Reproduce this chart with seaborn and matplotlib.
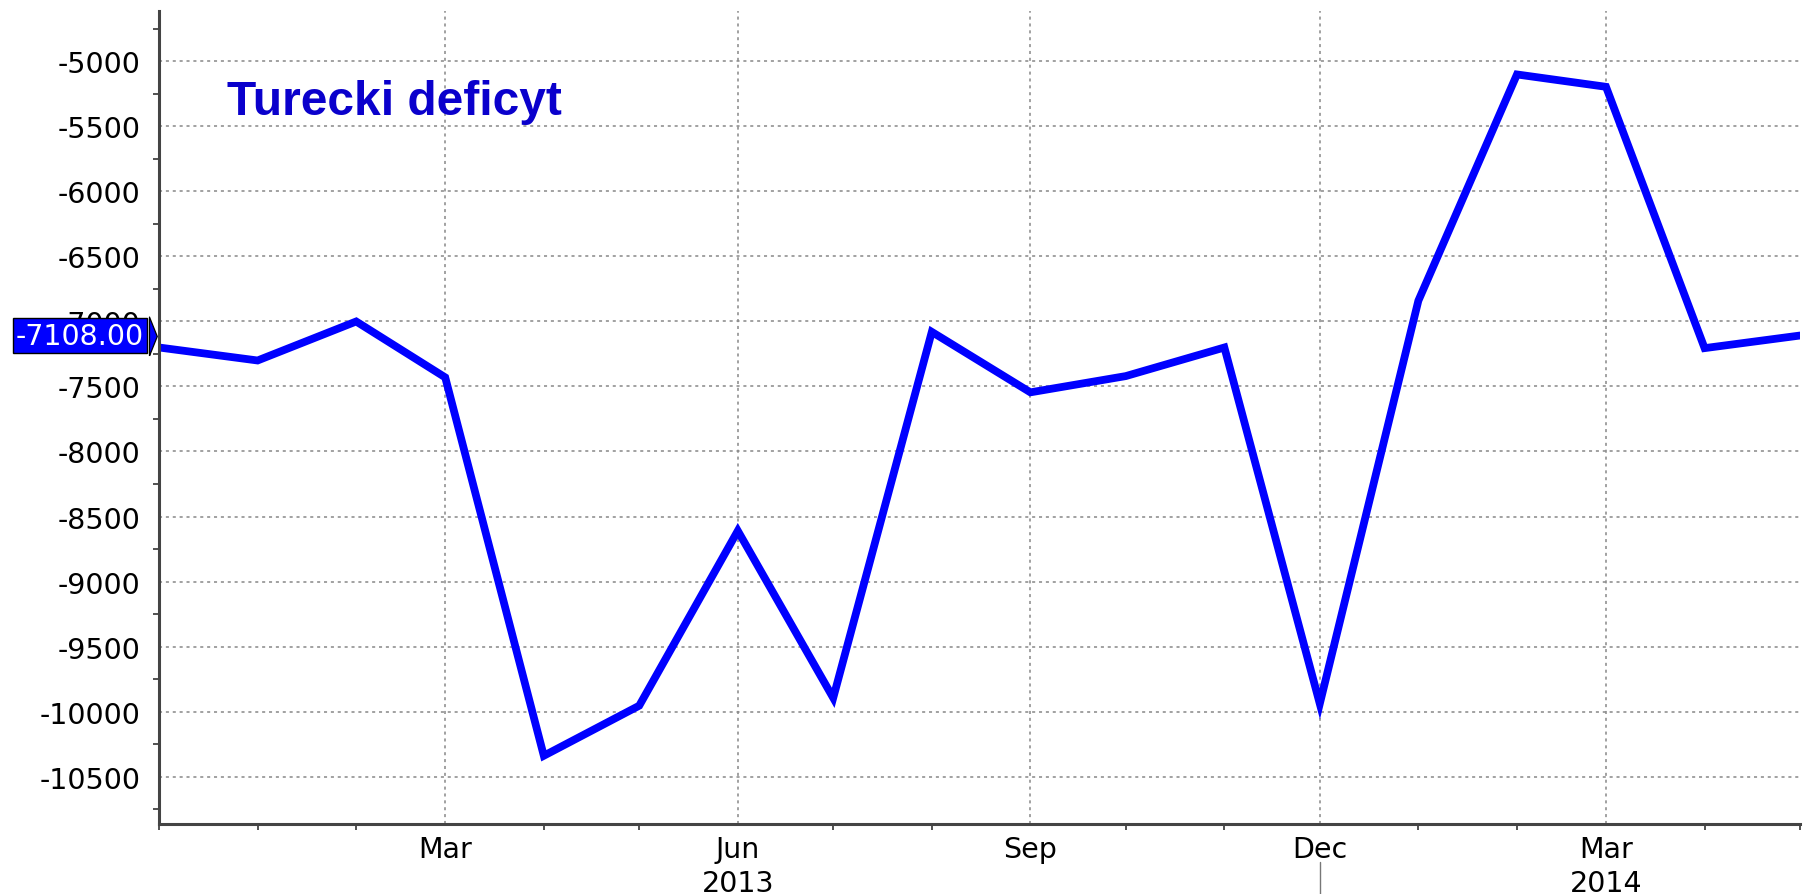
import matplotlib
matplotlib.use("Agg")
import matplotlib.pyplot as plt
import matplotlib.dates as mdates
import matplotlib.transforms as mtrans
import matplotlib.markers as mmarkers
import seaborn as sns
import pandas as pd
import numpy as np

# ---- data ----
months = ["2012-12", "2013-01", "2013-02", "2013-03", "2013-04", "2013-05",
          "2013-06", "2013-07", "2013-08", "2013-09", "2013-10", "2013-11",
          "2013-12", "2014-01", "2014-02", "2014-03", "2014-04", "2014-05"]
deficit = [-7200, -7300, -7000, -7430, -10340, -9955,
           -8610, -9895, -7080, -7545, -7420, -7200,
           -9940, -6840, -5100, -5195, -7205, -7108]
title_text = "Turecki deficyt"
last_label = "-7108.00"
xtick_months = ["2013-03", "2013-06", "2013-09", "2013-12", "2014-03"]
xtick_labels = ["Mar", "Jun", "Sep", "Dec", "Mar"]
year_labels = ["2013", "2014"]
year_label_pos = ["2013-06", "2014-03"]
year_sep = "2013-12"
yticks = list(range(-10500, -4999, 500))

df = pd.DataFrame({"date": pd.to_datetime(months), "value": deficit})

sns.set_theme(style="white")
plt.rcParams["font.family"] = ["DejaVu Sans"]

FS = 20.5
fig = plt.figure(figsize=(18.19, 8.95), dpi=100)
ax = fig.add_axes([159 / 1819, 1 - 825 / 895, (1800 - 159) / 1819, (825 - 12) / 895])

sns.lineplot(data=df, x="date", y="value", ax=ax, color="#0000FF",
             linewidth=5.6, solid_joinstyle="miter")

ax.set_xlim(df["date"].iloc[0], df["date"].iloc[-1])
ax.set_ylim(-10865, -4612)
ax.set_xlabel("")
ax.set_ylabel("")

ax.set_yticks(yticks)
ax.set_yticklabels([str(v) for v in yticks])
ax.yaxis.set_minor_locator(matplotlib.ticker.MultipleLocator(250))
ax.set_xticks(pd.to_datetime(xtick_months))
ax.set_xticklabels(xtick_labels)
ax.xaxis.set_minor_locator(mdates.MonthLocator())

for s in ["top", "right"]:
    ax.spines[s].set_visible(False)
for s in ["left", "bottom"]:
    ax.spines[s].set_color("#444444")
    ax.spines[s].set_linewidth(2.2)

ax.tick_params(axis="both", which="major", labelsize=FS, labelcolor="black",
               color="#222222")
ax.tick_params(axis="y", which="major", direction="out", length=7, width=2, pad=6.5)
ax.tick_params(axis="x", which="major", direction="in", length=4, width=1.5, pad=8)
ax.tick_params(axis="both", which="minor", direction="out", length=4.5,
               width=1.2, color="#333333", left=True, bottom=True)

for t in ax.yaxis.get_major_ticks():
    t.tick1line.set_marker(mmarkers.CARETLEFTBASE)
    t.tick1line.set_markersize(7)

ax.grid(True, which="major", axis="both", color="#888888",
        linestyle=(0, (2, 2.5)), linewidth=1.1)

# title
ax.text(0.0414, 0.873, title_text, transform=ax.transAxes, fontsize=34.5,
        fontweight="bold", color="#0A00CC", family="Liberation Sans",
        va="baseline", ha="left")

# year labels
trans = mtrans.blended_transform_factory(ax.transData, ax.transAxes)
for lab, pos in zip(year_labels, year_label_pos):
    ax.text(mdates.date2num(pd.Timestamp(pos)), -0.073, lab, transform=trans,
            ha="center", va="center", fontsize=FS, color="black")
xs = mdates.date2num(pd.Timestamp(year_sep))
ax.plot([xs, xs], [-38 / 813, -72 / 813], transform=trans, color="#777777",
        linewidth=1, clip_on=False)

# last value label
ytrans = mtrans.blended_transform_factory(ax.transAxes, ax.transData)
lastv = df["value"].iloc[-1]
ax.text(-79 / 1641, lastv, last_label, transform=ytrans, ha="center",
        va="center", fontsize=FS, color="white", zorder=10,
        bbox=dict(boxstyle="square,pad=0.12", facecolor="#0000FF",
                  edgecolor="black", linewidth=1))
tip = [(0, -1), (0.4, 0), (0, 1), (0, -1)]
ax.plot([-10 / 1641], [lastv], transform=ytrans, marker=tip, markersize=28,
        color="#0000FF", markeredgecolor="black", markeredgewidth=0.9,
        clip_on=False, zorder=11, linestyle="none")

fig.savefig("out.png", dpi=100)
